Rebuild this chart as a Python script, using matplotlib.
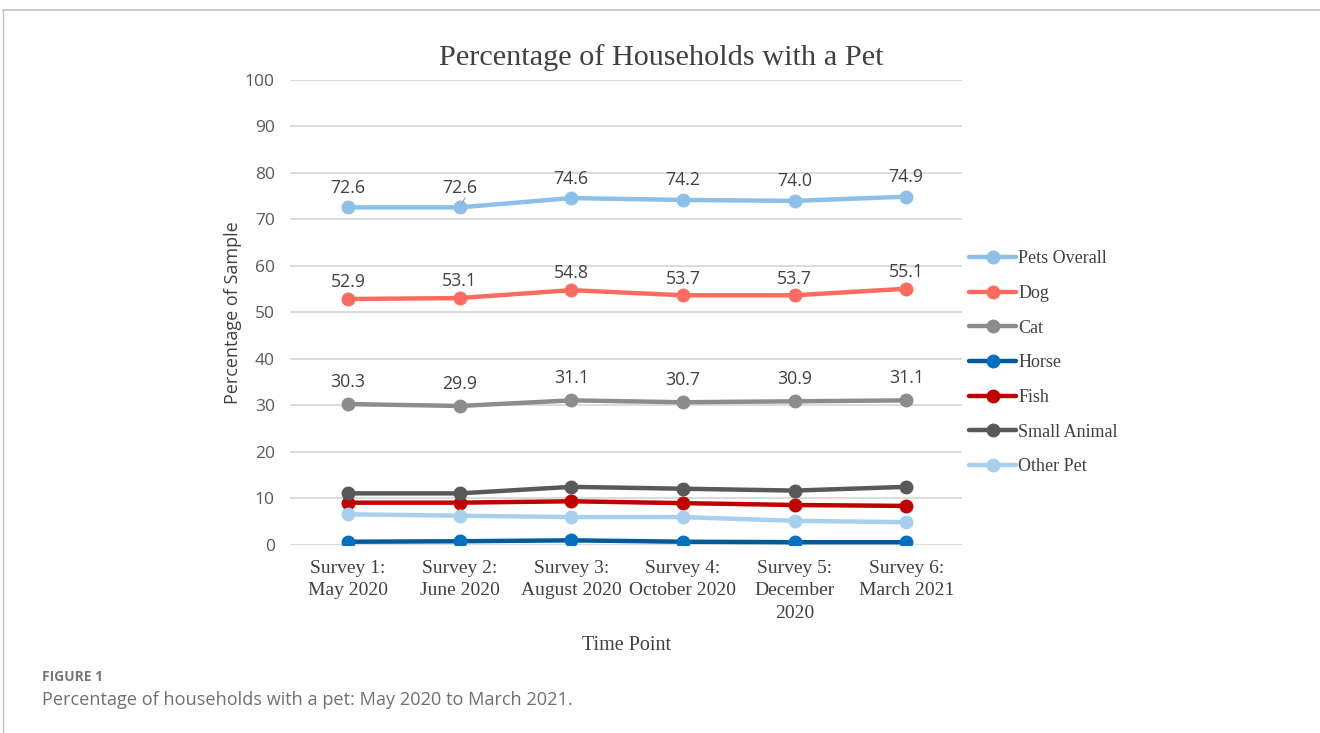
import matplotlib
matplotlib.use("Agg")
import matplotlib.pyplot as plt
from matplotlib.lines import Line2D

# survey time points
surveys = ["Survey 1:\nMay 2020", "Survey 2:\nJune 2020", "Survey 3:\nAugust 2020",
           "Survey 4:\nOctober 2020", "Survey 5:\nDecember\n2020", "Survey 6:\nMarch 2021"]

pets_overall = [72.6, 72.6, 74.6, 74.2, 74.0, 74.9]
dog = [52.9, 53.1, 54.8, 53.7, 53.7, 55.1]
cat = [30.3, 29.9, 31.1, 30.7, 30.9, 31.1]
horse = [0.7, 0.8, 1.0, 0.7, 0.6, 0.6]
fish = [9.1, 9.1, 9.4, 9.0, 8.6, 8.4]
small_animal = [11.1, 11.1, 12.5, 12.1, 11.7, 12.5]
other_pet = [6.6, 6.3, 6.0, 6.0, 5.2, 4.9]

serif = "Liberation Serif"
sans = "Open Sans"

fig = plt.figure(figsize=(13.2, 7.33), dpi=100)
ax = fig.add_axes([0.2197, 0.2565, 0.5091, 0.6344])

x = list(range(len(surveys)))
series = [
    ("Pets Overall", pets_overall, "#8DC0E8", "#8DC0E8"),
    ("Dog", dog, "#FF6B5E", "#FF6B5E"),
    ("Cat", cat, "#8C8C8C", "#8C8C8C"),
    ("Horse", horse, "#005A9A", "#0070C0"),
    ("Fish", fish, "#C00000", "#C00000"),
    ("Small Animal", small_animal, "#595959", "#595959"),
    ("Other Pet", other_pet, "#A7CFEE", "#A7CFEE"),
]
for name, vals, lc, mc in series:
    ax.plot(x, vals, color=lc, lw=3.2, marker="o", ms=9, mfc=mc, mec=mc,
            label=name, solid_capstyle="round", zorder=3)

# data labels for the three top series
for vals, off in [(pets_overall, 14), (dog, 12), (cat, 16)]:
    for i, v in enumerate(vals):
        ax.annotate(f"{v:.1f}", (i, v), xytext=(0, off), textcoords="offset points",
                    ha="center", va="center", fontsize=12.8, family=sans, color="#404040")
# small leader line on the second label
ax.annotate("", (1, pets_overall[1]), xytext=(4, 7), textcoords="offset points",
            arrowprops=dict(arrowstyle="-", color="#a0a0a0", lw=0.8, shrinkA=0, shrinkB=2))

ax.set_xlim(-0.52, 5.5)
ax.set_ylim(0, 100)
ax.set_yticks(range(0, 101, 10))
ax.grid(axis="y", color="#d9d9d9", lw=1.3, zorder=0)
for s in ax.spines.values():
    s.set_visible(False)
ax.tick_params(length=0)
ax.tick_params(axis="y", pad=11, labelsize=12.5, labelcolor="#595959")
ax.set_yticklabels([str(v) for v in range(0, 101, 10)], family=sans)
ax.set_xticks(x)
ax.set_xticklabels(surveys, family=serif, fontsize=14, color="#404040", linespacing=1.4)
ax.tick_params(axis="x", pad=11)

fig.text(661 / 1320, 1 - 58 / 733, "Percentage of Households with a Pet", family=serif,
         fontsize=21.8, color="#404040", ha="center", va="center")
ax.set_xlabel("Time Point", family=serif, fontsize=14.5, color="#404040", labelpad=10)
ax.set_ylabel("Percentage of Sample", family=sans, fontsize=13, color="#404040", labelpad=2)

ax.legend(loc="upper left", bbox_to_anchor=(0.995, 0.657), frameon=False,
          prop={"family": serif, "size": 13}, labelcolor="#404040",
          handlelength=2.6, handletextpad=0.1, labelspacing=0.98, borderaxespad=0.2)

# page frame lines
fig.add_artist(Line2D([0.0025, 1.0], [1 - 10 / 733] * 2, color="#c0c0c0", lw=1.2))
fig.add_artist(Line2D([0.0025, 0.0025], [0, 1 - 10 / 733], color="#c0c0c0", lw=1.0))

fig.text(42 / 1320, 1 - 677 / 733, "FIGURE 1", family=sans, fontsize=10, fontweight="bold",
         color="#777777", va="center")
fig.text(42 / 1320, 1 - 700 / 733, "Percentage of households with a pet: May 2020 to March 2021.",
         family=sans, fontsize=13.1, color="#6f6f6f", va="center")

fig.savefig("out.png", dpi=100)
